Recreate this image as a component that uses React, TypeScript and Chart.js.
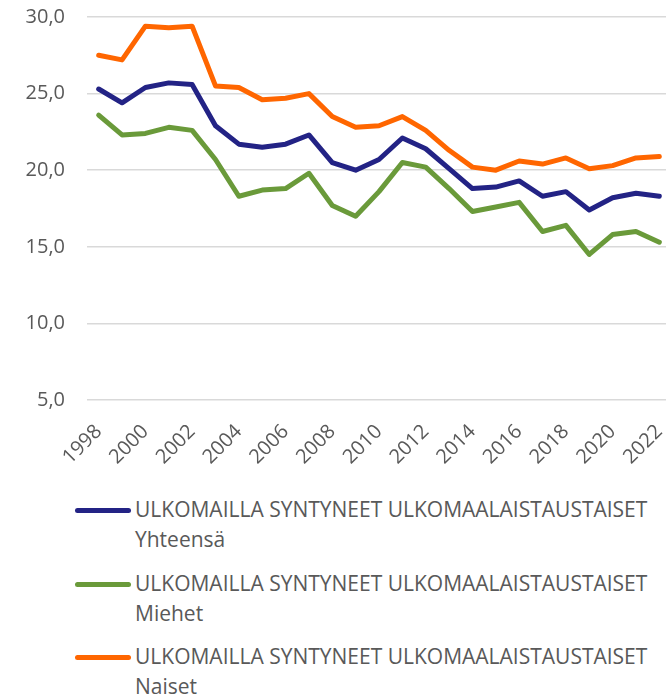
import React, { useEffect, useRef } from "react";
import { Chart, registerables } from "chart.js";

Chart.register(...registerables);

const years = [
  "1998", "1999", "2000", "2001", "2002", "2003", "2004", "2005", "2006", "2007",
  "2008", "2009", "2010", "2011", "2012", "2013", "2014", "2015", "2016", "2017",
  "2018", "2019", "2020", "2021", "2022",
];

const yhteensa = [
  25.3, 24.4, 25.4, 25.7, 25.6, 22.9, 21.7, 21.5, 21.7, 22.3,
  20.5, 20.0, 20.7, 22.1, 21.4, 20.1, 18.8, 18.9, 19.3, 18.3,
  18.6, 17.4, 18.2, 18.5, 18.3,
];

const miehet = [
  23.6, 22.3, 22.4, 22.8, 22.6, 20.7, 18.3, 18.7, 18.8, 19.8,
  17.7, 17.0, 18.6, 20.5, 20.2, 18.8, 17.3, 17.6, 17.9, 16.0,
  16.4, 14.5, 15.8, 16.0, 15.3,
];

const naiset = [
  27.5, 27.2, 29.4, 29.3, 29.4, 25.5, 25.4, 24.6, 24.7, 25.0,
  23.5, 22.8, 22.9, 23.5, 22.6, 21.3, 20.2, 20.0, 20.6, 20.4,
  20.8, 20.1, 20.3, 20.8, 20.9,
];

const seriesNames = [
  "ULKOMAILLA SYNTYNEET ULKOMAALAISTAUSTAISET Yhteensä",
  "ULKOMAILLA SYNTYNEET ULKOMAALAISTAUSTAISET Miehet",
  "ULKOMAILLA SYNTYNEET ULKOMAALAISTAUSTAISET Naiset",
];

const seriesColors = ["#232385", "#6A9A3A", "#FF6600"];

const yMin = 5;
const yMax = 30;
const yStep = 5;

const FONT = "'Open Sans', sans-serif";
const TEXT_COLOR = "#595959";

export default function App() {
  const canvasRef = useRef<HTMLCanvasElement | null>(null);

  useEffect(() => {
    if (!canvasRef.current) return;
    const values = [yhteensa, miehet, naiset];
    const chart = new Chart(canvasRef.current, {
      type: "line",
      data: {
        labels: years,
        datasets: values.map((v, i) => ({
          label: seriesNames[i],
          data: v,
          borderColor: seriesColors[i],
          backgroundColor: seriesColors[i],
          borderWidth: 5,
          pointRadius: 0,
          tension: 0,
          borderCapStyle: "round" as const,
          borderJoinStyle: "round" as const,
          fill: false,
        })),
      },
      options: {
        animation: false,
        responsive: true,
        maintainAspectRatio: false,
        layout: { padding: { top: 17, right: 5, bottom: 0, left: 0 } },
        plugins: {
          legend: { display: false },
          tooltip: { enabled: false },
        },
        scales: {
          x: {
            offset: true,
            grid: { display: false },
            border: { display: false },
            ticks: {
              autoSkip: false,
              maxRotation: 45,
              minRotation: 45,
              color: TEXT_COLOR,
              font: { family: FONT, size: 20 },
              padding: 12,
              callback: function (this: any, _v: any, idx: number) {
                return idx % 2 === 0 ? years[idx] : "";
              },
            },
            afterFit: (scale: any) => {
              scale.height = 78;
              scale.paddingTop = 0;
              scale.paddingLeft = 0;
              scale.paddingRight = 0;
            },
          },
          y: {
            min: yMin,
            max: yMax,
            grid: { color: "#d9d9d9", lineWidth: 1.5, drawTicks: false },
            border: { display: false },
            ticks: {
              stepSize: yStep,
              color: TEXT_COLOR,
              font: { family: FONT, size: 20 },
              padding: 22,
              callback: (v: any) => Number(v).toFixed(1).replace(".", ","),
            },
            afterFit: (scale: any) => {
              scale.width = 87;
              scale.paddingTop = 0;
              scale.paddingBottom = 0;
            },
          },
        },
      },
    });
    return () => chart.destroy();
  }, []);

  return (
    <div
      style={{
        position: "absolute",
        left: 0,
        top: 0,
        width: 666,
        height: 699,
        overflow: "hidden",
        background: "#fff",
      }}
    >
      <div style={{ position: "absolute", left: 0, top: 0, width: 676, height: 478 }}>
        <canvas ref={canvasRef} />
      </div>
      <div style={{ position: "absolute", left: 0, top: 494, width: 666 }}>
        {seriesNames.map((name, i) => (
          <div
            key={name}
            style={{ position: "relative", height: 73.5, fontFamily: FONT }}
          >
            <div
              style={{
                position: "absolute",
                left: 75,
                top: 14,
                width: 56,
                height: 5,
                borderRadius: 3,
                background: seriesColors[i],
              }}
            />
            <div
              style={{
                position: "absolute",
                left: 135,
                top: 0,
                width: 528,
                fontSize: 21,
                lineHeight: "30px",
                color: TEXT_COLOR,
              }}
            >
              {name}
            </div>
          </div>
        ))}
      </div>
    </div>
  );
}
